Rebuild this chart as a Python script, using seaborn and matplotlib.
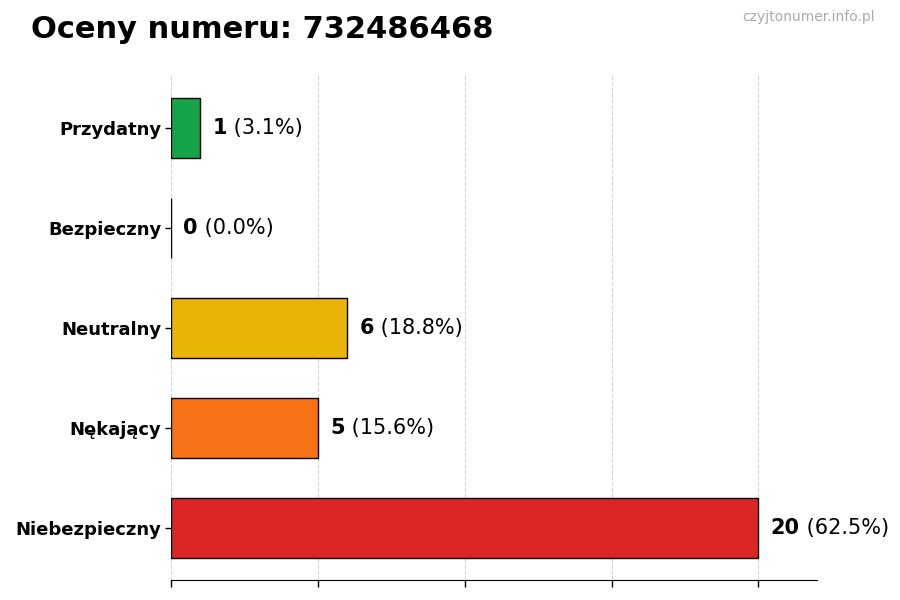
import matplotlib
matplotlib.use("Agg")
import matplotlib.pyplot as plt
import seaborn as sns
import pandas as pd

# ratings for the number, top to bottom
categories = ["Przydatny", "Bezpieczny", "Neutralny", "Nękający", "Niebezpieczny"]
counts = [1, 0, 6, 5, 20]
percents = [3.1, 0.0, 18.8, 15.6, 62.5]
colors = ["#16a34a", "#2563eb", "#eab308", "#f97316", "#dc2626"]

title = "Oceny numeru: 732486468"
watermark = "czyjtonumer.info.pl"

df = pd.DataFrame({"kategoria": categories, "liczba": counts})

sns.set_style("white")
plt.rcParams["font.family"] = ["DejaVu Sans"]
plt.rcParams["text.color"] = "black"
plt.rcParams["ytick.color"] = "black"
plt.rcParams["xtick.color"] = "black"

fig = plt.figure(figsize=(9, 6), dpi=100)
ax = fig.add_axes([0.19, 0.033, 0.718, 0.842])

sns.barplot(data=df, y="kategoria", x="liczba", hue="kategoria",
            palette=colors, orient="h", width=0.6, edgecolor="black",
            linewidth=1, legend=False, ax=ax, saturation=1)

ax.set_xlim(0, 22)
ax.set_ylim(4.525, -0.525)
ax.set_xticks([0, 5, 10, 15, 20])
ax.set_xticklabels([])
ax.set_xlabel("")
ax.set_ylabel("")
ax.grid(axis="x", linestyle="--", color="#d5d5d5", linewidth=0.8)
ax.set_axisbelow(True)
for side in ["top", "right", "left"]:
    ax.spines[side].set_visible(False)
ax.spines["bottom"].set_color("black")
ax.tick_params(axis="x", bottom=True, length=5, width=1, color="black")
ax.tick_params(axis="y", left=True, length=4, width=1, color="black",
               labelsize=13, labelcolor="black", pad=3)
for lbl in ax.get_yticklabels():
    lbl.set_fontweight("bold")

fig.canvas.draw()
renderer = fig.canvas.get_renderer()
inv = ax.transData.inverted()
for i, (c, p) in enumerate(zip(counts, percents)):
    x0 = c + 0.42
    t = ax.text(x0, i, str(c), fontsize=15, fontweight="bold", color="black",
                va="center", ha="left", clip_on=False)
    bb = t.get_window_extent(renderer)
    x1 = inv.transform((bb.x1, bb.y0))[0]
    ax.text(x1, i, " (%.1f%%)" % p, fontsize=15, color="black",
            va="center", ha="left", clip_on=False)

fig.text(0.034, 0.95, title, fontsize=22, fontweight="bold", color="black",
         ha="left", va="center")
fig.text(0.972, 0.972, watermark, fontsize=10, color="#aaaaaa",
         ha="right", va="center")

fig.savefig("out.png", dpi=100)
